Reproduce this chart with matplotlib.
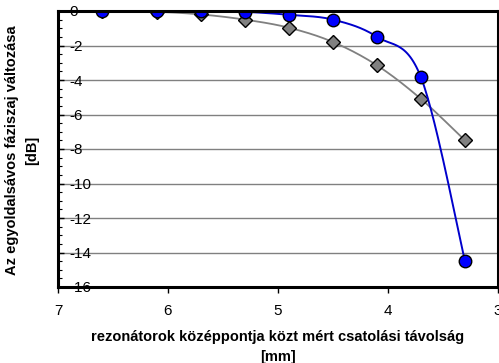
import numpy as np
import matplotlib
matplotlib.use("Agg")
import matplotlib.pyplot as plt

plt.rcParams['font.family'] = ['Liberation Sans', 'DejaVu Sans']

# coupling distance between resonator centres [mm]
distance = [6.6, 6.1, 5.7, 5.3, 4.9, 4.5, 4.1, 3.7, 3.3]
# change of single-sideband phase noise [dB]
noise_blue = [0.0, 0.0, 0.0, -0.05, -0.22, -0.5, -1.5, -3.85, -14.5]
noise_gray = [0.0, -0.05, -0.2, -0.5, -0.97, -1.8, -3.15, -5.1, -7.5]

y_ticks = [0, -2, -4, -6, -8, -10, -12, -14, -16]
x_ticks = [7, 6, 5, 4, 3]


def smooth(x, y, n=30):
    """Cardinal (Catmull-Rom) spline through the points, like a smoothed line."""
    p = np.column_stack([x, y]).astype(float)
    ext = np.vstack([p[0], p, p[-1]])
    out = []
    t = np.linspace(0, 1, n)[:, None]
    for i in range(1, len(ext) - 2):
        p0, p1, p2, p3 = ext[i - 1], ext[i], ext[i + 1], ext[i + 2]
        m1 = (p2 - p0) / 2
        m2 = (p3 - p1) / 2
        h00 = 2 * t**3 - 3 * t**2 + 1
        h10 = t**3 - 2 * t**2 + t
        h01 = -2 * t**3 + 3 * t**2
        h11 = t**3 - t**2
        seg = h00 * p1 + h10 * m1 + h01 * p2 + h11 * m2
        out.append(seg if i == 1 else seg[1:])
    s = np.vstack(out)
    return s[:, 0], s[:, 1]


fig = plt.figure(figsize=(4.99, 3.63), dpi=100)
ax = fig.add_axes([58 / 499, 1 - 287 / 363, 440 / 499, 276 / 363])

ax.set_xlim(7, 3)
ax.set_ylim(-16, 0)

for yv in y_ticks[1:-1]:
    ax.axhline(yv, color='#808080', lw=1.0, zorder=1)

gx, gy = smooth(distance, noise_gray)
ax.plot(gx, gy, color='#808080', lw=1.3, zorder=3)
ax.plot(distance, noise_gray, linestyle='none', marker='D', ms=7,
        mfc='#808080', mec='black', mew=1.0, zorder=4)

bx, by = smooth(distance, noise_blue)
ax.plot(bx, by, color='#0000CC', lw=1.4, zorder=5)
ax.plot(distance, noise_blue, linestyle='none', marker='o', ms=9,
        mfc='#0000FF', mec='black', mew=1.0, zorder=6)

for sp in ax.spines.values():
    sp.set_linewidth(2.2)
    sp.set_color('black')
    sp.set_zorder(7)

ax.set_yticks(y_ticks)
ax.set_yticklabels([str(v) for v in y_ticks])
ax.set_yticks(np.arange(-16, 0.01, 0.5), minor=True)
ax.tick_params(axis='y', which='major', direction='in', length=4, width=1,
               pad=-8.5, labelsize=11)
ax.tick_params(axis='y', which='minor', direction='in', length=3, width=0.8)
for lab in ax.get_yticklabels():
    lab.set_horizontalalignment('left')

ax.set_xticks(x_ticks)
ax.set_xticklabels([str(v) for v in x_ticks])
ax.tick_params(axis='x', which='major', direction='out', length=4, width=1,
               pad=8, labelsize=11)

ax.set_xlabel('rezonátorok középpontja közt mért csatolási távolság\n[mm]',
              fontsize=10.5, fontweight='bold', labelpad=9, linespacing=1.5)
fig.text(22 / 499, 1 - 150 / 363, 'Az egyoldalsávos fáziszaj változása\n[dB]',
         rotation=90, ha='center', va='center', fontsize=10.5,
         fontweight='bold', linespacing=1.5)

fig.savefig('out.png', dpi=100)
